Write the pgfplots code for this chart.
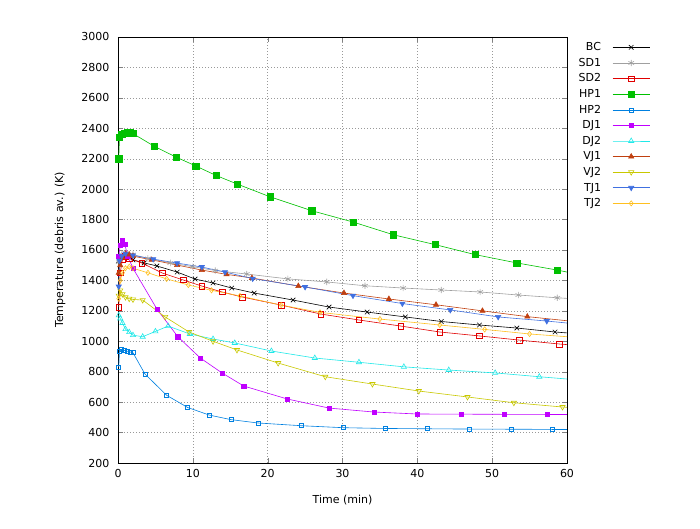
\documentclass[border=0pt]{standalone}
\usepackage{fontspec}
\setmainfont{DejaVu Sans}
\usepackage{pgfplots}
\pgfplotsset{compat=1.18}
\definecolor{cBC}{HTML}{000000}
\definecolor{cSD1}{HTML}{A0A0A0}
\definecolor{cSD2}{HTML}{E00000}
\definecolor{cHP1}{HTML}{00C000}
\definecolor{cHP2}{HTML}{0080E0}
\definecolor{cDJ1}{HTML}{C000FF}
\definecolor{cDJ2}{HTML}{20E8E8}
\definecolor{cVJ1}{HTML}{C04010}
\definecolor{cVJ2}{HTML}{C8C800}
\definecolor{cTJ1}{HTML}{4070E0}
\definecolor{cTJ2}{HTML}{FFC020}
\begin{document}
\begin{tikzpicture}
\path[use as bounding box] (-118pt,-66pt) rectangle (582pt,463pt);
\begin{axis}[
  scale only axis, width=449pt, height=426pt,
  xmin=0, xmax=60, ymin=200, ymax=3000,
  xtick={0,10,...,60}, ytick={200,400,...,3000},
  tick pos=both, tick align=inside, major tick length=5pt,
  grid=major, grid style={dash pattern=on 1pt off 2pt, gray!80},
  axis line style={line width=0.8pt},
  font=\fontsize{11}{13}\selectfont,
  /pgf/number format/assume math mode=true,
  /pgf/number format/1000 sep={},
  xticklabel style={yshift=-3pt},
  yticklabel style={xshift=-5pt},
  xlabel={Time (min)}, ylabel={Temperature (debris av.) (K)},
  every axis x label/.style={at={(axis description cs:0.5,-0.087)}, anchor=center},
  every axis y label/.style={at={(axis description cs:-0.129,0.5)}, rotate=90, anchor=center},
  legend plot pos=right,
  legend cell align=right,
  legend style={draw=none, fill=none, at={(1.192,0.997)}, anchor=north east, row sep=2pt,
    font=\fontsize{11}{13}\selectfont},
  legend image code/.code={\path (0cm,0cm); \draw[mark repeat=2,mark phase=2,#1] plot coordinates {(0.33cm,0cm) (0.98cm,0cm) (1.63cm,0cm)};},
  every axis plot/.append style={line width=0.6pt, mark size=2.6pt},
]
% BC
\addplot[color=cBC, mark=x, mark size=3.2pt] coordinates {
(0.1,1530)(0.5,1560)(1,1555)(2,1535)(3.5,1515)(5.2,1495)(7.9,1455)(10.3,1409)(12.7,1383)(15.2,1350)(18.2,1317)(23.4,1271)(28.2,1225)(33.3,1192)(38.4,1160)(43.2,1130)(48.3,1107)(53.3,1087)(58.4,1061)};
\addlegendentry{BC}
\addplot[color=cBC, forget plot] coordinates {(58.4,1061)(60,1055)};
% SD1
\addplot[color=cSD1, mark=asterisk, mark size=3.2pt] coordinates {
(0.1,1520)(0.5,1570)(1,1580)(2,1570)(4,1545)(7,1515)(10,1490)(13,1465)(17.2,1442)(22.7,1410)(27.9,1390)(33,1365)(38.1,1350)(43.2,1337)(48.4,1324)(53.5,1304)(58.7,1286)};
\addlegendentry{SD1}
\addplot[color=cSD1, forget plot] coordinates {(58.7,1286)(60,1282)};
% SD2
\addplot[color=cSD2, mark=square, mark size=2.8pt] coordinates {
(0.1,1225)(0.3,1450)(0.6,1540)(1,1560)(1.5,1545)(3.2,1514)(5.9,1449)(8.7,1403)(11.2,1363)(13.9,1324)(16.6,1291)(21.8,1238)(27.1,1179)(32.2,1140)(37.8,1100)(43,1061)(48.3,1035)(53.6,1008)(59,982)};
\addlegendentry{SD2}
\addplot[color=cSD2, forget plot] coordinates {(59,982)(60,978)};
% HP1
\addplot[color=cHP1, mark=square*, mark size=3.1pt] coordinates {
(0.1,2200)(0.2,2340)(0.5,2360)(0.8,2365)(1.2,2370)(1.6,2372)(2,2365)(4.9,2280)(7.75,2211)(10.4,2152)(13.1,2090)(15.9,2034)(20.3,1950)(25.9,1858)(31.4,1784)(36.8,1700)(42.4,1635)(47.7,1570)(53.3,1515)(58.7,1468)};
\addlegendentry{HP1}
\addplot[color=cHP1, forget plot] coordinates {(58.7,1468)(60,1455)};
% HP2
\addplot[color=cHP2, mark=square, mark size=2pt] coordinates {
(0.1,830)(0.2,935)(0.5,945)(0.8,940)(1.2,935)(1.6,930)(2,925)(3.6,785)(6.5,645)(9.3,565)(12.2,515)(15.1,485)(18.7,463)(24.5,445)(30.1,432)(35.7,427)(41.3,425)(47,423)(52.6,422)(58,421)};
\addlegendentry{HP2}
\addplot[color=cHP2, forget plot] coordinates {(58,421)(60,421)};
% DJ1
\addplot[color=cDJ1, mark=square*, mark size=2.1pt] coordinates {
(0.1,1560)(0.3,1630)(0.6,1665)(0.9,1640)(1.3,1560)(2,1480)(5.2,1212)(8,1030)(11,890)(13.9,792)(16.8,706)(22.6,621)(28.2,561)(34.2,535)(40,522)(45.9,521)(51.6,520)(57.4,520)};
\addlegendentry{DJ1}
\addplot[color=cDJ1, forget plot] coordinates {(57.4,520)(60,520)};
% DJ2
\addplot[color=cDJ2, mark=triangle, mark size=3pt] coordinates {
(0.1,1170)(0.3,1150)(0.6,1120)(1,1080)(1.5,1060)(2,1040)(3.3,1030)(5,1065)(6.7,1100)(9.6,1048)(12.7,1015)(15.6,989)(20.5,936)(26.3,890)(32.2,862)(38.2,832)(44.2,811)(50.4,792)(56.3,767)};
\addlegendentry{DJ2}
\addplot[color=cDJ2, forget plot] coordinates {(56.3,767)(60,752)};
% VJ1
\addplot[color=cVJ1, mark=triangle*, mark size=3pt] coordinates {
(0.1,1450)(0.3,1500)(0.6,1550)(1,1575)(1.5,1570)(2,1560)(4.5,1535)(7.9,1501)(11.2,1468)(14.5,1440)(17.9,1416)(24.1,1363)(30.2,1317)(36.2,1278)(42.5,1240)(48.7,1200)(54.7,1162)};
\addlegendentry{VJ1}
\addplot[color=cVJ1, forget plot] coordinates {(54.7,1162)(60,1135)};
% VJ2
\addplot[color=cVJ2, mark=triangle, mark size=3pt, mark options={rotate=180}] coordinates {
(0.1,1300)(0.3,1335)(0.6,1310)(1,1290)(1.5,1280)(2,1275)(3.3,1271)(6.3,1160)(9.5,1061)(12.7,1000)(15.9,943)(21.4,857)(27.7,767)(34,719)(40.2,673)(46.7,634)(52.9,596)(59.4,568)};
\addlegendentry{VJ2}
\addplot[color=cVJ2, forget plot] coordinates {(59.4,568)(60,566)};
% TJ1
\addplot[color=cTJ1, mark=triangle*, mark size=3pt, mark options={rotate=180}] coordinates {
(0.1,1360)(0.2,1530)(0.5,1560)(1,1575)(2,1565)(4.7,1540)(7.9,1514)(11.2,1488)(14.3,1455)(18,1412)(25,1357)(31.4,1300)(38,1248)(44.4,1206)(50.8,1160)(57.3,1133)};
\addlegendentry{TJ1}
\addplot[color=cTJ1, forget plot] coordinates {(57.3,1133)(60,1120)};
% TJ2
\addplot[color=cTJ2, mark=diamond, mark size=2.6pt] coordinates {
(0.1,1280)(0.3,1400)(0.6,1450)(1,1480)(1.5,1490)(2,1480)(4,1450)(6.5,1410)(9.4,1370)(12.5,1335)(16.3,1298)(21.8,1238)(27,1190)(35,1146)(43,1107)(49,1078)(55,1048)};
\addlegendentry{TJ2}
\addplot[color=cTJ2, forget plot] coordinates {(55,1048)(60,1030)};
\end{axis}
\end{tikzpicture}
\end{document}
